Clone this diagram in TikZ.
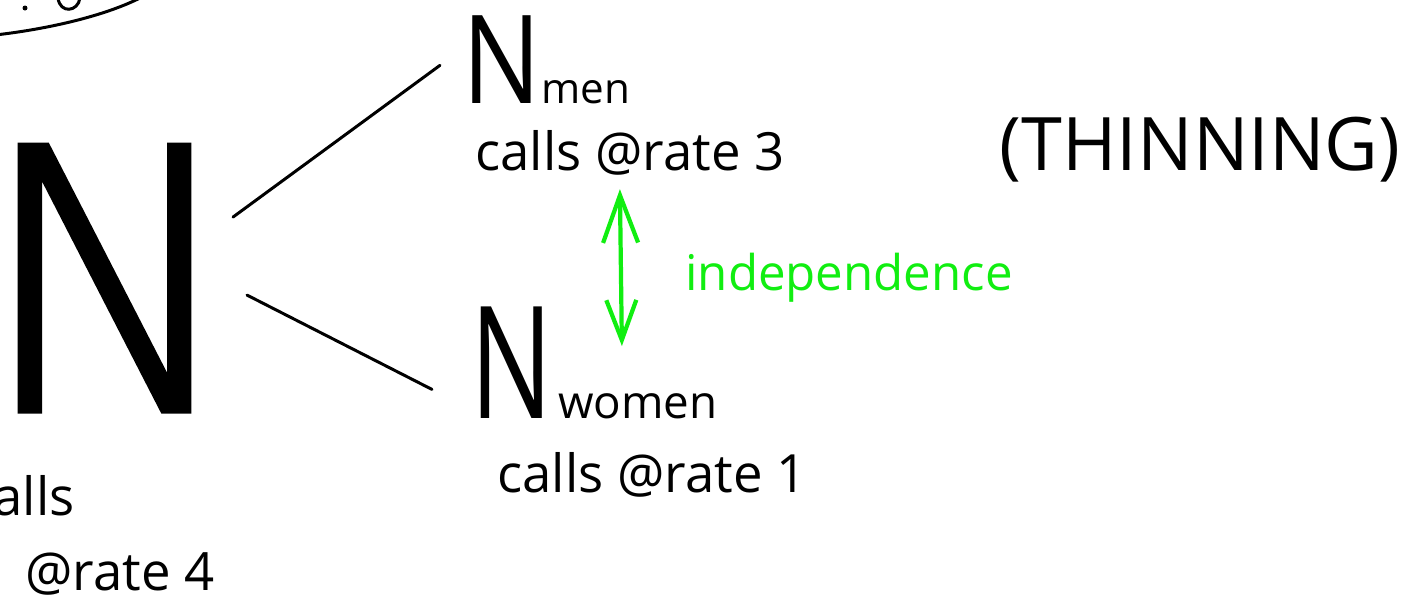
\documentclass[tikz,border=0pt]{standalone}
\usepackage{fontspec}
\setmainfont{Open Sans}
\IfFontExistsTF{DejaVu Sans ExtraLight}
  {\newfontfamily\strokefont[FakeBold=2]{DejaVu Sans ExtraLight}}
  {\newfontfamily\strokefont{DejaVu Sans}}
\usetikzlibrary{arrows.meta,positioning,calc}
\definecolor{Ink}{HTML}{000000}
\definecolor{Marker}{HTML}{11EE11}
\tikzset{
  hand/.style={inner sep=0pt,text=Ink,font=\fontsize{30}{30}\selectfont},
  markertext/.style={inner sep=0pt,text=Marker,font=\fontsize{28}{28}\selectfont},
  bigletter/.style={inner sep=0pt,text=Ink,font=\strokefont\fontsize{206}{206}\selectfont},
  link/.style={draw=Ink,line width=1.7pt,line cap=round},
  markerline/.style={draw=Marker,line width=2.4pt,line cap=round,{Straight Barb[length=0.95cm,width=0.7cm]}-{Straight Barb[length=0.8cm,width=0.6cm]}}
}

\begin{document}
\begin{tikzpicture}[x=0.02cm,y=-0.02cm]
  \path[use as bounding box,fill=white] (0,0) rectangle (1405,610);
  \clip (0,0) rectangle (1405,610);
  % the whole process and its two parts
  \node[bigletter,anchor=base] (bigN) at (110,410) {\scalebox{0.97}[1]{N}};
  \node[inner sep=0pt,anchor=base west] (nmen) at (462,103)
    {\fontsize{70}{70}\selectfont\scalebox{0.85}[1]{N}\fontsize{24}{24}\selectfont men};
  \node[inner sep=0pt,anchor=base west] (nwomen) at (470,418)
    {\fontsize{89}{89}\selectfont\scalebox{0.7}[1]{N}\hspace{3pt}\fontsize{26}{26}\selectfont women};
  \node[hand,anchor=base west] (ratemen) at (475,170) {calls @rate 3};
  \node[hand,anchor=base west] (ratewomen) at (497,492) {calls @rate 1};
  \node[hand,anchor=base east] (callsall) at (75,515) {calls};
  \node[hand,anchor=base west] (rateall) at (25,590) {@rate 4};
  \node[hand,font=\fontsize{42}{42}\selectfont,anchor=base] (thinning) at (1200,170) {(THINNING)};
  \node[markertext,anchor=base west] (indep) at (685,290) {independence};
  % splitting
  \draw[link] ([shift={(123,-61)}]bigN.center) -- ([shift={(-22,6)}]nmen.west);
  \draw[link] ([shift={(137,17)}]bigN.center) -- ([shift={(-38,27)}]nwomen.west);
  \draw[markerline] ($(ratemen.south)+(-10,14)$) -- ($(ratemen.south |- nwomen.north)+(-8,40)$);
  % cut off at the top edge
  \draw[link] (-5,35) .. controls (40,30) and (100,18) .. (140,-2);
  \draw[link] (58,-2) .. controls (60,14) and (78,12) .. (80,-2);
  \fill[Ink] (25,8) circle (2.5);
\end{tikzpicture}
\end{document}
